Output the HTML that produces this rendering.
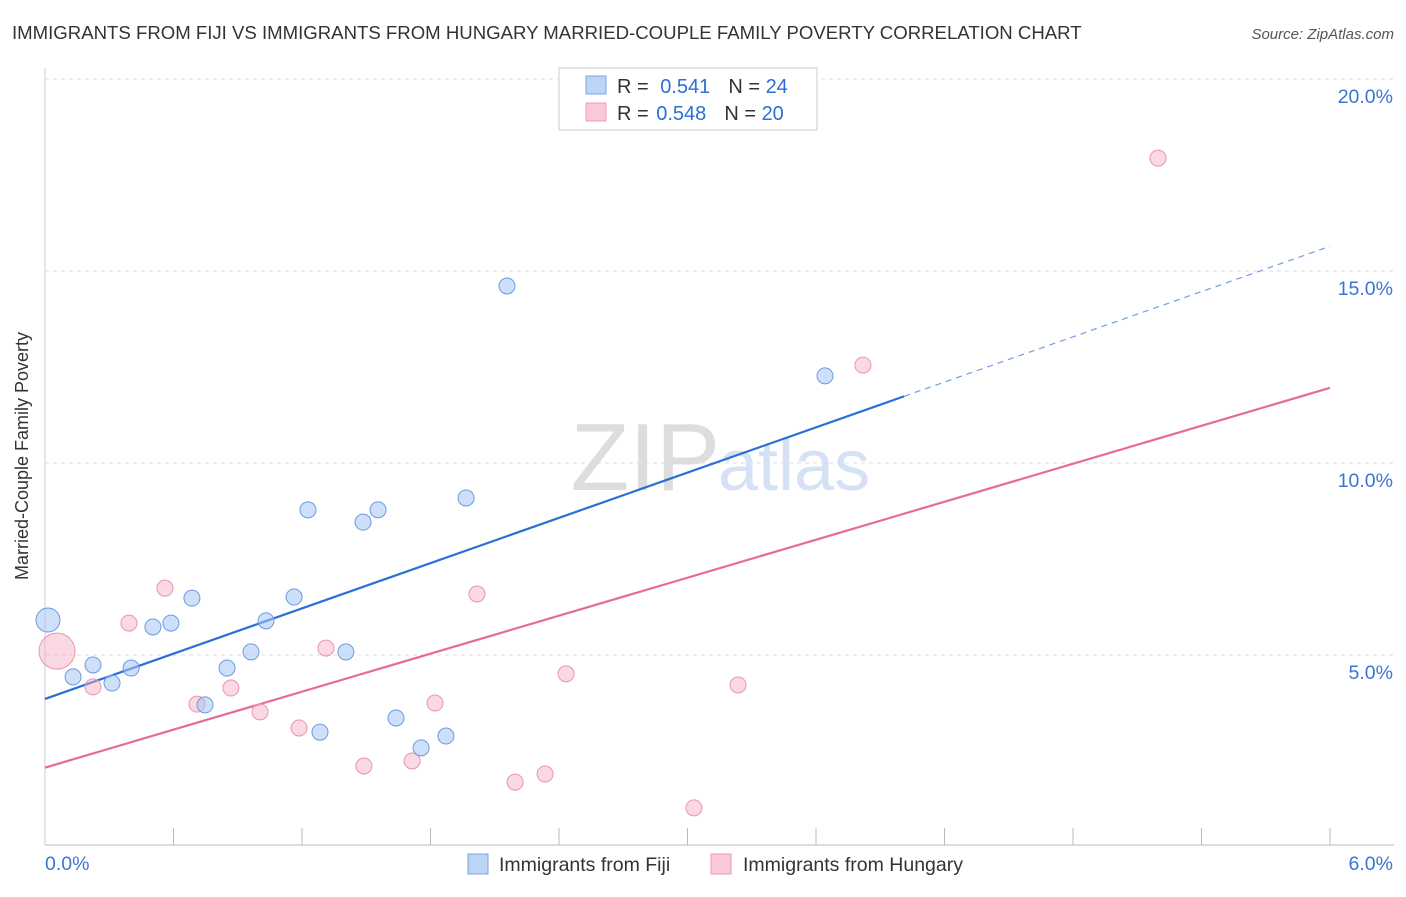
<!DOCTYPE html>
<html><head><meta charset="utf-8"><style>
body{margin:0;background:#fff;font-family:"Liberation Sans",sans-serif;}
svg text{font-family:"Liberation Sans",sans-serif;}
</style></head><body>
<svg id="chart" width="1406" height="892" viewBox="0 0 1406 892">
<text x="12" y="39" font-size="18.6" fill="#333">IMMIGRANTS FROM FIJI VS IMMIGRANTS FROM HUNGARY MARRIED-COUPLE FAMILY POVERTY CORRELATION CHART</text>
<text x="1394" y="39" font-size="15" fill="#555" text-anchor="end" font-style="italic">Source: ZipAtlas.com</text>
<text x="28" y="456" font-size="18" fill="#333" text-anchor="middle" transform="rotate(-90 28 456)">Married-Couple Family Poverty</text>
<g id="grid"></g>
<text x="720" y="490" font-size="96" fill="#ddd" text-anchor="end" font-family="Liberation Serif">ZIP</text>
<text x="718" y="490" font-size="72" fill="#d5e2f5">atlas</text>
<g id="lines"></g>
<g id="points"></g>
<g>
<rect x="559" y="68" width="258" height="62" fill="#fff" stroke="#ccc"/>
<rect x="586" y="76" width="20" height="18" fill="#bcd4f6" stroke="#7aa6e0"/>
<rect x="586" y="103" width="20" height="18" fill="#fac8d8" stroke="#ec98b4"/>
<text x="617" y="93" font-size="20" fill="#333">R = <tspan fill="#2c6fd6" dx="6">0.541</tspan><tspan dx="18" fill="#333">N = </tspan><tspan fill="#2c6fd6">24</tspan></text>
<text x="617" y="120" font-size="20" fill="#333">R = <tspan fill="#2c6fd6" dx="2">0.548</tspan><tspan dx="18" fill="#333">N = </tspan><tspan fill="#2c6fd6">20</tspan></text>
</g>
<g>
<rect x="468" y="854" width="20" height="20" fill="#bcd4f6" stroke="#7aa6e0"/>
<text x="499" y="871" font-size="19.5" fill="#333">Immigrants from Fiji</text>
<rect x="711" y="854" width="20" height="20" fill="#fac8d8" stroke="#ec98b4"/>
<text x="743" y="871" font-size="19.5" fill="#333">Immigrants from Hungary</text>
</g>
</svg>
<script>
const fijiX=[0.014,0.131,0.224,0.313,0.402,0.504,0.588,0.686,0.747,0.850,0.962,1.032,1.163,1.228,1.284,1.405,1.485,1.555,1.639,1.756,1.872,1.966,2.157,3.642];
const fijiY=[5.91,4.43,4.74,4.27,4.66,5.73,5.83,6.48,3.70,4.66,5.08,5.89,6.51,8.78,2.99,5.08,8.46,8.78,3.36,2.58,2.89,9.09,14.61,12.27];
const hunX=[0.056,0.224,0.392,0.560,0.710,0.868,1.004,1.186,1.312,1.489,1.714,1.821,2.017,2.195,2.335,2.433,3.030,3.236,3.819,5.197];
const hunY=[5.10,4.17,5.83,6.74,3.72,4.14,3.52,3.10,5.18,2.11,2.24,3.75,6.59,1.69,1.90,4.51,1.02,4.22,12.55,17.94];
const yTicks=[5,10,15,20];
const yTickLabels=["5.0%","10.0%","15.0%","20.0%"];
const xTickLabels=["0.0%","6.0%"];
const NS="http://www.w3.org/2000/svg";
const X=v=>45+v/6*1285;
const Y=v=>847-v*38.4;
function mk(tag,attrs,parent){const e=document.createElementNS(NS,tag);for(const k in attrs)e.setAttribute(k,attrs[k]);parent.appendChild(e);return e;}
const grid=document.getElementById('grid');
yTicks.forEach((t,i)=>{
 const l=mk('line',{x1:45,x2:1394,y1:Y(t),y2:Y(t),stroke:'#ddd','stroke-dasharray':'4,4'},grid);
 
 
 const tx=mk('text',{x:1393,y:Y(t)+24,'font-size':19.5,fill:'#3a74d4','text-anchor':'end'},grid);
 tx.textContent=yTickLabels[i];
 
 
});
const ax=mk('line',{x1:45,x2:1394,y1:845,y2:845,stroke:'#bbb'},grid);


const ay=mk('line',{x1:45,x2:45,y1:68,y2:845,stroke:'#ccc'},grid);


for(let k=1;k<=10;k++){
 const t=mk('line',{x1:X(k*0.6),x2:X(k*0.6),y1:828,y2:845,stroke:'#bbb'},grid);
 
 
}
[[0,'start',45],[6,'end',1393]].forEach((a,i)=>{
 const t=mk('text',{x:a[2],y:870,'font-size':19.5,fill:'#3a74d4','text-anchor':a[1]},grid);
 t.textContent=xTickLabels[i];
 
 
});
function reg(xs,ys){const n=xs.length;let mx=0,my=0;for(let i=0;i<n;i++){mx+=xs[i];my+=ys[i];}mx/=n;my/=n;let sxy=0,sxx=0;for(let i=0;i<n;i++){sxy+=(xs[i]-mx)*(ys[i]-my);sxx+=(xs[i]-mx)**2;}const b=sxy/sxx;return [my-b*mx,b];}
const lines=document.getElementById('lines');
const [ab,bb]=reg(fijiX,fijiY);
const xmaxF=Math.max(...fijiX)+0.37;
const l1=mk('line',{x1:X(0),y1:Y(ab),x2:X(xmaxF),y2:Y(ab+bb*xmaxF),stroke:'#2a6fd8','stroke-width':2.2},lines);


const l2=mk('line',{x1:X(xmaxF),y1:Y(ab+bb*xmaxF),x2:X(6),y2:Y(ab+bb*6),stroke:'#6f9fe0','stroke-width':1.2,'stroke-dasharray':'6,5'},lines);


const [ah,bh]=reg(hunX,hunY);
const l3=mk('line',{x1:X(0),y1:Y(ah),x2:X(6),y2:Y(ah+bh*6),stroke:'#e66b96','stroke-width':2.2},lines);


const pts=document.getElementById('points');
hunX.forEach((x,i)=>{
 const c=mk('circle',{cx:X(x),cy:Y(hunY[i]),r:i===0?18:8,fill:'rgba(246,170,196,0.45)',stroke:'#ea93b2','stroke-width':1},pts);
 
 
});
fijiX.forEach((x,i)=>{
 const c=mk('circle',{cx:X(x),cy:Y(fijiY[i]),r:i===0?12:8,fill:'rgba(164,196,244,0.55)',stroke:'#6b9be0','stroke-width':1},pts);
 
 
});
</script>
</body></html>
